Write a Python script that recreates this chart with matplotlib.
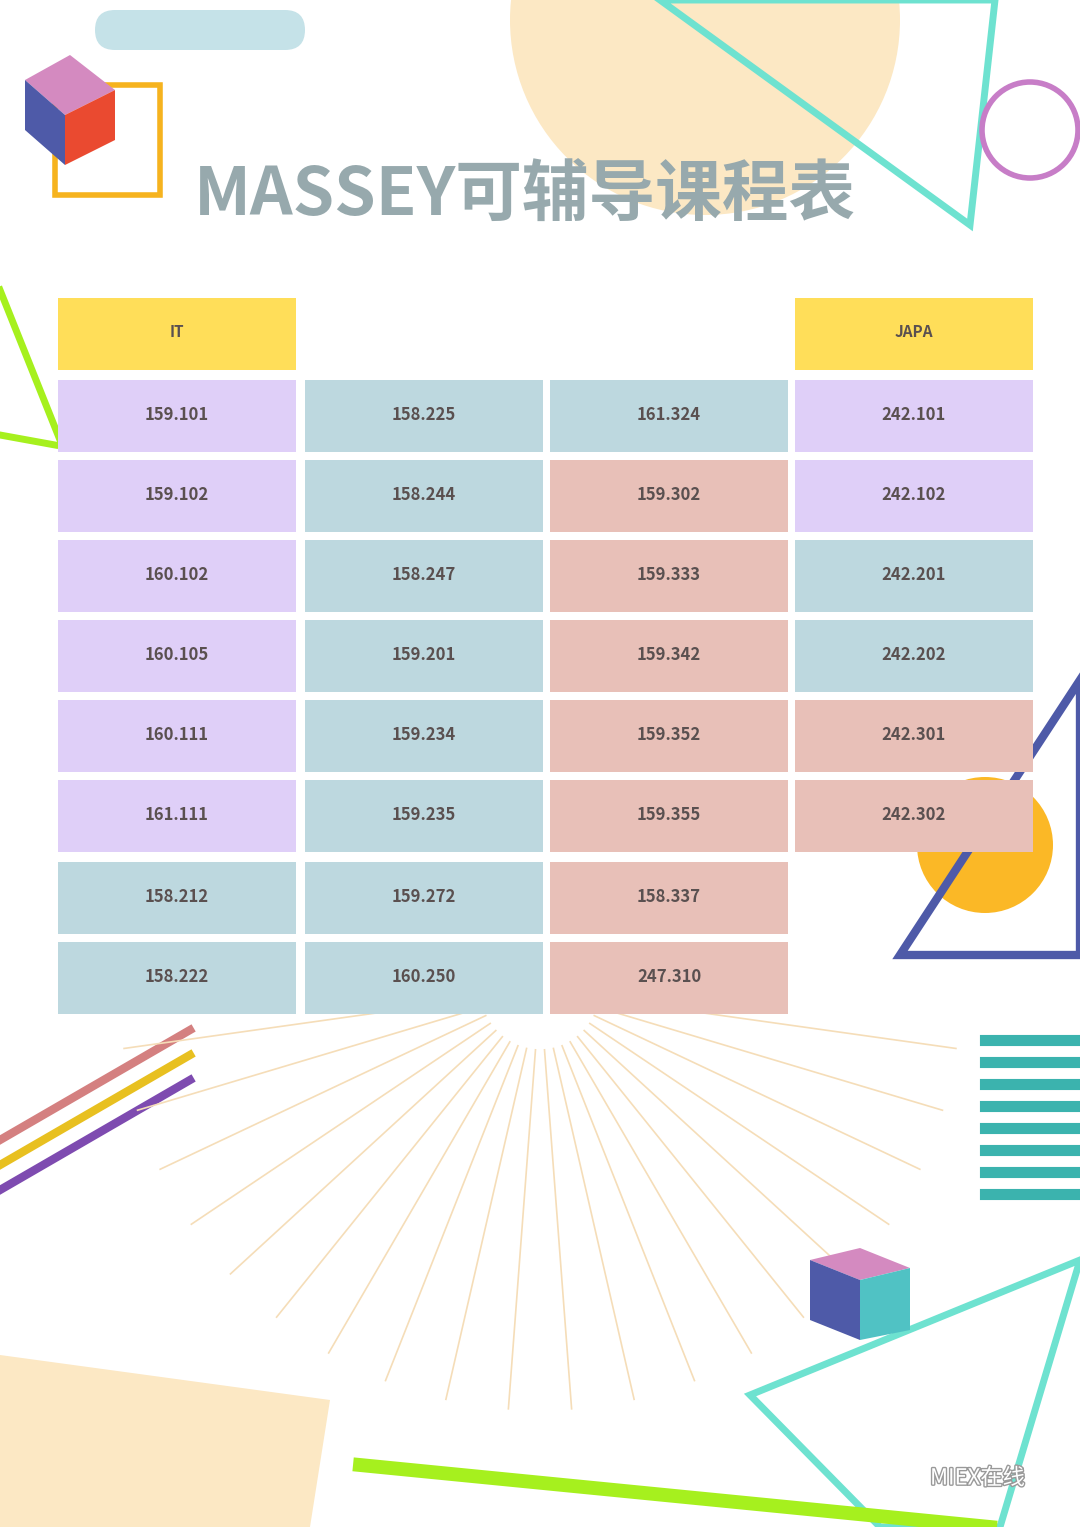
import numpy as np
import matplotlib
matplotlib.use("Agg")
import matplotlib.pyplot as plt
import matplotlib.patheffects as pe
from matplotlib.patches import Rectangle, Circle, Polygon, FancyBboxPatch

plt.rcParams["font.family"] = ["Noto Sans CJK SC", "DejaVu Sans"]

PURPLE = "#DFCFF8"; BLUE = "#BDD8DF"; PINK = "#E8C0B8"; YELLOW = "#FFDE59"
TXT = "#5A5050"

fig = plt.figure(figsize=(10.8, 15.27), dpi=100)
ax = fig.add_axes([0, 0, 1, 1])
ax.set_xlim(0, 1080); ax.set_ylim(1527, 0); ax.axis("off")

# 배경 장식
ax.add_patch(Circle((705, 20), 195, fc="#FCE8C4", ec="none", zorder=0))
ax.add_patch(Circle((985, 845), 68, fc="#FBB826", ec="none", zorder=0))
ax.add_patch(FancyBboxPatch((95, 10), 210, 40, boxstyle="round,pad=0,rounding_size=20",
             fc="#C5E2E8", ec="none", zorder=0))
ax.add_patch(Polygon([[660, 0], [970, 225], [995, 0]], closed=True, fill=False,
             ec="#6EE2D0", lw=5, zorder=0))
ax.add_patch(Polygon([[900, 955], [1080, 955], [1080, 680]], closed=True, fill=False,
             ec="#4E5AA8", lw=6, zorder=0))
ax.add_patch(Polygon([[750, 1395], [1080, 1260], [1000, 1527], [880, 1527]], closed=True,
             fill=False, ec="#6EE2D0", lw=5, zorder=0))
ax.add_patch(Polygon([[0, 1355], [330, 1400], [310, 1527], [0, 1527]], closed=True,
             fc="#FCE8C4", ec="none", zorder=0))
ax.plot([360, 990], [1465, 1527], color="#A6F01E", lw=10, zorder=0)
ax.plot([0, 60], [290, 440], color="#A6F01E", lw=5, zorder=0)
ax.plot([0, 55], [435, 445], color="#A6F01E", lw=5, zorder=0)
for y0, c in [(1140, "#D48080"), (1165, "#E8C020"), (1190, "#7E4BB0")]:
    ax.plot([0, 190], [y0, y0 - 110], color=c, lw=6, zorder=0)
for yy in range(1040, 1200, 22):
    ax.plot([985, 1080], [yy, yy], color="#3BB3AE", lw=8, zorder=0)
# 입방체
ax.add_patch(Polygon([[55, 85], [160, 85], [160, 195], [55, 195]], closed=True,
             fill=False, ec="#F6B31E", lw=4, zorder=1))
ax.add_patch(Polygon([[25, 80], [70, 55], [115, 90], [65, 115]], fc="#D48AC0", zorder=1))
ax.add_patch(Polygon([[25, 80], [65, 115], [65, 165], [25, 130]], fc="#4E5AA8", zorder=1))
ax.add_patch(Polygon([[65, 115], [115, 90], [115, 140], [65, 165]], fc="#EA4A30", zorder=1))
ax.add_patch(Polygon([[810, 1260], [860, 1248], [910, 1268], [860, 1280]], fc="#D48AC0", zorder=1))
ax.add_patch(Polygon([[810, 1260], [860, 1280], [860, 1340], [810, 1320]], fc="#4E5AA8", zorder=1))
ax.add_patch(Polygon([[860, 1280], [910, 1268], [910, 1330], [860, 1340]], fc="#50C2C4", zorder=1))
ax.add_patch(Circle((1030, 130), 48, fill=False, ec="#C77DC7", lw=4, zorder=1))

# 방사선
cx, cy = 540, 990
for ang in np.linspace(8, 172, 20):
    a = np.deg2rad(ang)
    ax.plot([cx + 60 * np.cos(a), cx + 420 * np.cos(a)],
            [cy + 60 * np.sin(a), cy + 420 * np.sin(a)],
            color="#F5DDB8", lw=1.2, zorder=0)

# 제목
ax.text(525, 195, "MASSEY可辅导课程表", fontsize=48, fontweight="bold",
        color="#97A9AD", ha="center", va="center", zorder=3)

cols = [
    [("159.101", PURPLE), ("159.102", PURPLE), ("160.102", PURPLE), ("160.105", PURPLE),
     ("160.111", PURPLE), ("161.111", PURPLE), ("158.212", BLUE), ("158.222", BLUE)],
    [("158.225", BLUE), ("158.244", BLUE), ("158.247", BLUE), ("159.201", BLUE),
     ("159.234", BLUE), ("159.235", BLUE), ("159.272", BLUE), ("160.250", BLUE)],
    [("161.324", BLUE), ("159.302", PINK), ("159.333", PINK), ("159.342", PINK),
     ("159.352", PINK), ("159.355", PINK), ("158.337", PINK), ("247.310", PINK)],
    [("242.101", PURPLE), ("242.102", PURPLE), ("242.201", BLUE), ("242.202", BLUE),
     ("242.301", PINK), ("242.302", PINK)],
]
xs = [58, 305, 550, 795]
W, H = 238, 72
rows_y = [380, 460, 540, 620, 700, 780, 862, 942]

for x, hdr in [(58, "IT"), (795, "JAPA")]:
    ax.add_patch(Rectangle((x, 298), W, H, fc=YELLOW, ec="none", zorder=2))
    ax.text(x + W / 2, 332, hdr, fontsize=11, fontweight="bold", color=TXT,
            ha="center", va="center", zorder=3)

for x, col in zip(xs, cols):
    for y, (code, c) in zip(rows_y, col):
        ax.add_patch(Rectangle((x, y), W, H, fc=c, ec="none", zorder=2))
        ax.text(x + W / 2, y + 35, code, fontsize=12, fontweight="bold", color=TXT,
                ha="center", va="center", zorder=3)

ax.text(930, 1478, "MIEX在线", fontsize=16, color="white", ha="left", va="center",
        zorder=3, path_effects=[pe.withStroke(linewidth=2, foreground="#999")])

fig.savefig("out.png", dpi=100, facecolor="white")
